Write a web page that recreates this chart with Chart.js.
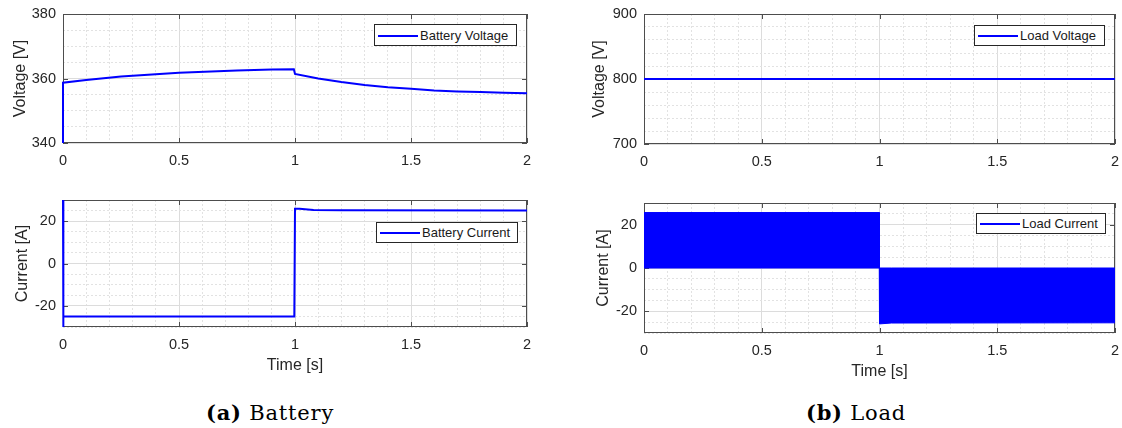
<!DOCTYPE html>
<html lang="en">
<head>
    <meta charset="UTF-8">
    <title>Battery and Load</title>
    <script src="https://cdn.jsdelivr.net/npm/chart.js@4.4.0/dist/chart.umd.min.js"></script>
    <style>
        * { margin: 0; padding: 0; box-sizing: border-box; }
        body {
            width: 1122px;
            height: 428px;
            background: #ffffff;
            position: relative;
            overflow: hidden;
            font-family: 'Liberation Sans', Arial, sans-serif;
        }
        canvas { position: absolute; }
        .legend {
            position: absolute;
            background: #fff;
            border: 1px solid #262626;
            font-size: 13px;
            color: #1a1a1a;
            white-space: nowrap;
        }
        .legend .swatch {
            position: absolute;
            left: 3px;
            width: 40px;
            height: 2px;
            background: #0000ff;
        }
        .legend span {
            position: absolute;
            left: 45px;
        }
        .caption {
            position: absolute;
            font-family: 'DejaVu Serif', serif;
            font-size: 21px;
            letter-spacing: 0.8px;
            color: #000;
            white-space: nowrap;
            transform: translateX(-50%);
        }
        .caption b { font-weight: bold; }
    </style>
</head>
<body>
    <canvas id="battV" width="533" height="167" style="left:0px; top:6px"></canvas>
    <canvas id="battI" width="533" height="185" style="left:0px; top:192px"></canvas>
    <canvas id="loadV" width="540" height="168" style="left:581px; top:6px"></canvas>
    <canvas id="loadI" width="540" height="188" style="left:581px; top:195px"></canvas>

    <div class="legend" style="left:374px; top:24px; width:143px; height:22px">
        <div class="swatch" style="top:10px"></div><span style="top:3px">Battery Voltage</span>
    </div>
    <div class="legend" style="left:376px; top:222px; width:142px; height:21px">
        <div class="swatch" style="top:9px"></div><span style="top:2px">Battery Current</span>
    </div>
    <div class="legend" style="left:974px; top:25px; width:131px; height:21px">
        <div class="swatch" style="top:9px"></div><span style="top:2px">Load Voltage</span>
    </div>
    <div class="legend" style="left:976px; top:213px; width:130px; height:21px">
        <div class="swatch" style="top:9px"></div><span style="top:2px">Load Current</span>
    </div>

    <div class="caption" style="left:270px; top:400px"><b>(a)</b> Battery</div>
    <div class="caption" style="left:856px; top:400px"><b>(b)</b> Load</div>

    <script>
        // values
        const xTicks = [0, 0.5, 1, 1.5, 2];

        const timeBV = [0, 0, 0.1, 0.25, 0.5, 0.75, 0.9, 0.995, 1.0, 1.1, 1.2, 1.3, 1.4, 1.5, 1.6, 1.7, 1.8, 1.9, 2.0];
        const battVoltage = [340, 358.7, 359.5, 360.6, 361.8, 362.5, 362.8, 362.9, 361.4, 360.0, 358.9, 358.0, 357.3, 356.8, 356.3, 356.0, 355.8, 355.6, 355.4];
        const yTicksBV = [340, 360, 380];

        const timeBC = [0, 0, 0.003, 0.997, 1.0, 1.02, 1.08, 1.2, 2.0];
        const battCurrent = [30, -30, -25, -25, 25.9, 25.9, 25.3, 25.1, 25.0];
        const yTicksI = [-20, 0, 20];

        const timeLV = [0, 2];
        const loadVoltage = [800, 800];
        const yTicksLV = [700, 800, 900];

        // switching current drawn as its envelope
        const timeLC = [0, 0.999, 1.0, 1.05, 2.0];
        const loadCurrentHigh = [25.6, 25.6, 0, 0, 0];
        const loadCurrentLow = [0, 0, -25.8, -25.4, -25.3];

        const BLUE = '#0000ff';
        const TEXT = '#262626';
        const FONT = "'Liberation Sans', Arial, sans-serif";

        const pts = (xs, ys) => xs.map((x, i) => ({ x: x, y: ys[i] }));
        const isMajor = (v, list) => list.some(m => Math.abs(m - v) < 1e-6);

        function gridOpts(list) {
            return {
                color: ctx => isMajor(ctx.tick.value, list) ? '#dcdcdc' : '#e2e2e2',
                lineWidth: 1,
                drawTicks: false
            };
        }

        function borderOpts(list) {
            return {
                display: false,
                dash: ctx => (ctx.tick && isMajor(ctx.tick.value, list)) ? [] : [2, 2]
            };
        }

        // box around the plot area with inward tick marks, MATLAB style
        const boxPlugin = {
            id: 'box',
            beforeDatasetsDraw(chart, args, opts) {
                const { ctx, chartArea: a, scales } = chart;
                ctx.save();
                ctx.strokeStyle = '#4d4d4d';
                ctx.lineWidth = 1;
                ctx.beginPath();
                xTicks.forEach(v => {
                    const px = Math.round(scales.x.getPixelForValue(v)) + 0.5;
                    ctx.moveTo(px, a.bottom); ctx.lineTo(px, a.bottom - 5);
                    ctx.moveTo(px, a.top); ctx.lineTo(px, a.top + 5);
                });
                opts.yMajor.forEach(v => {
                    const py = Math.round(scales.y.getPixelForValue(v)) + 0.5;
                    ctx.moveTo(a.left, py); ctx.lineTo(a.left + 5, py);
                    ctx.moveTo(a.right, py); ctx.lineTo(a.right - 5, py);
                });
                ctx.stroke();
                ctx.strokeRect(Math.round(a.left) + 0.5, Math.round(a.top) + 0.5,
                    Math.round(a.right - a.left) - 1, Math.round(a.bottom - a.top) - 1);
                ctx.restore();
            }
        };

        function makeChart(id, datasets, cfg) {
            return new Chart(document.getElementById(id), {
                type: 'line',
                data: { datasets: datasets },
                options: {
                    responsive: false,
                    animation: false,
                    events: [],
                    layout: { padding: { left: 0, right: 6, top: 8, bottom: 0 } },
                    plugins: {
                        legend: { display: false },
                        tooltip: { enabled: false },
                        box: { yMajor: cfg.yMajor }
                    },
                    scales: {
                        x: {
                            type: 'linear',
                            min: 0,
                            max: 2,
                            ticks: {
                                stepSize: 0.1,
                                autoSkip: false,
                                maxRotation: 0,
                                padding: 9,
                                color: TEXT,
                                font: { family: FONT, size: 14.5 },
                                callback: v => isMajor(v, xTicks) ? String(Math.round(v * 10) / 10) : ''
                            },
                            grid: gridOpts(xTicks),
                            border: borderOpts(xTicks),
                            title: {
                                display: !!cfg.xTitle,
                                text: cfg.xTitle || '',
                                color: TEXT,
                                font: { family: FONT, size: 16 },
                                padding: { top: 0, bottom: 2 }
                            },
                            afterFit: s => { s.height = cfg.xHeight; s.paddingLeft = 0; s.paddingRight = 0; }
                        },
                        y: {
                            type: 'linear',
                            min: cfg.yMin,
                            max: cfg.yMax,
                            ticks: {
                                stepSize: cfg.yStep,
                                autoSkip: false,
                                padding: 7,
                                color: TEXT,
                                font: { family: FONT, size: 14.5 },
                                callback: v => isMajor(v, cfg.yMajor) ? String(v) : ''
                            },
                            grid: gridOpts(cfg.yMajor),
                            border: borderOpts(cfg.yMajor),
                            title: {
                                display: true,
                                text: cfg.yTitle,
                                color: TEXT,
                                font: { family: FONT, size: 16 },
                                padding: { top: cfg.titleOffset, bottom: 0 }
                            },
                            afterFit: s => { s.width = 63; s.paddingTop = 0; s.paddingBottom = 0; }
                        }
                    }
                },
                plugins: [boxPlugin]
            });
        }

        const lineSet = (xs, ys) => ({
            data: pts(xs, ys),
            borderColor: BLUE,
            borderWidth: 2,
            pointRadius: 0,
            tension: 0,
            fill: false,
            clip: 2
        });

        makeChart('battV', [lineSet(timeBV, battVoltage)], {
            yMin: 340, yMax: 380, yStep: 5, yMajor: yTicksBV,
            yTitle: 'Voltage [V]', titleOffset: 11, xHeight: 30
        });

        makeChart('battI', [lineSet(timeBC, battCurrent)], {
            yMin: -30, yMax: 30, yStep: 5, yMajor: yTicksI,
            yTitle: 'Current [A]', titleOffset: 13, xHeight: 50, xTitle: 'Time [s]'
        });

        makeChart('loadV', [lineSet(timeLV, loadVoltage)], {
            yMin: 700, yMax: 900, yStep: 20, yMajor: yTicksLV,
            yTitle: 'Voltage [V]', titleOffset: 9, xHeight: 30
        });

        makeChart('loadI', [
            Object.assign(lineSet(timeLC, loadCurrentHigh), { borderWidth: 1, fill: '+1', backgroundColor: BLUE }),
            Object.assign(lineSet(timeLC, loadCurrentLow), { borderWidth: 1 })
        ], {
            yMin: -30, yMax: 30, yStep: 5, yMajor: yTicksI,
            yTitle: 'Current [A]', titleOffset: 13, xHeight: 50, xTitle: 'Time [s]'
        });
    </script>
</body>
</html>
